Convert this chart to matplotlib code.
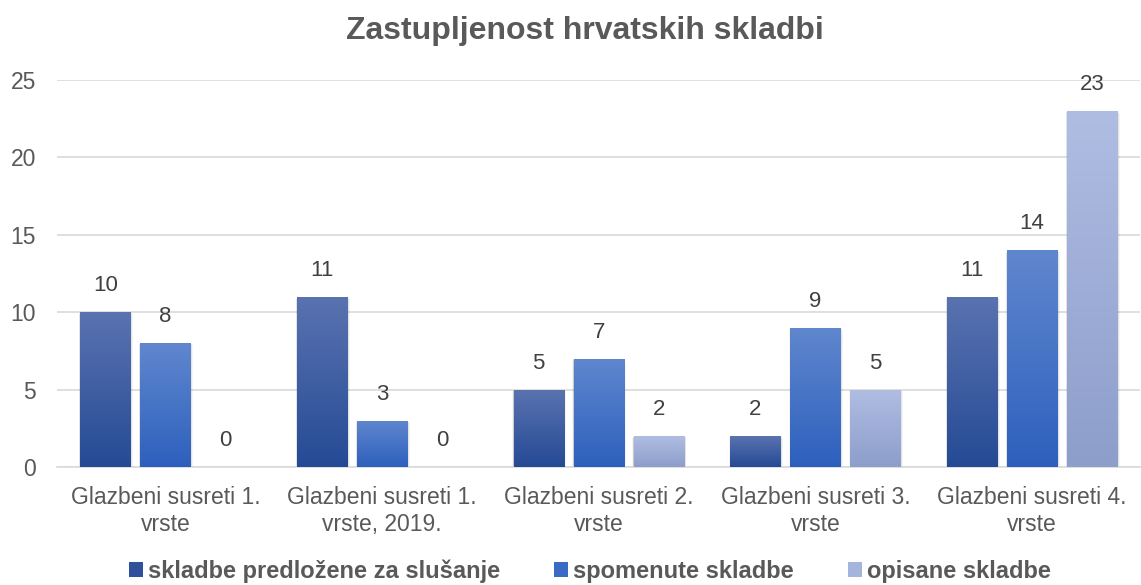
import numpy as np
import matplotlib.pyplot as plt
from matplotlib.colors import LinearSegmentedColormap
from matplotlib.patches import Rectangle

# Data
categories = ['Glazbeni susreti 1.\nvrste', 'Glazbeni susreti 1.\nvrste, 2019.',
              'Glazbeni susreti 2.\nvrste', 'Glazbeni susreti 3.\nvrste',
              'Glazbeni susreti 4.\nvrste']
predlozene = [10, 11, 5, 2, 11]
spomenute = [8, 3, 7, 9, 14]
opisane = [0, 0, 2, 5, 23]
series_names = ['skladbe predložene za slušanje', 'spomenute skladbe', 'opisane skladbe']

# (top colour, bottom colour) of each series gradient
gradients = [('#5A73B0', '#254A95'), ('#6087CE', '#2D60BD'), ('#B0BDE3', '#8D9ECB')]
legend_colors = ['#2F519B', '#3A6AC4', '#A5B4DD']

text_color = '#595959'
grid_color = '#d9d9d9'

fig = plt.figure(figsize=(11.41, 5.85), dpi=100)
ax = fig.add_axes([0.05, 0.2017, 0.9495, 0.6615])

x = np.arange(len(categories))
width = 0.231
step = 0.277
all_series = [predlozene, spomenute, opisane]

grad = np.linspace(1, 0, 256).reshape(-1, 1)

for i, values in enumerate(all_series):
    pos = x + (i - 1) * step
    cmap = LinearSegmentedColormap.from_list('g%d' % i, [gradients[i][1], gradients[i][0]])
    bars = ax.bar(pos, values, width, color='none', edgecolor='none', zorder=3)
    for b, v in zip(bars, values):
        bx, bw, bh = b.get_x(), b.get_width(), b.get_height()
        if bh > 0:
            # soft shadow
            for k, a in enumerate([0.10, 0.07, 0.04]):
                off = 0.004 * (k + 1)
                sh = Rectangle((bx - off * 0.5, -0.08 * (k + 1)), bw + off * 1.5, bh + 0.04 * (k + 1),
                               facecolor='black', edgecolor='none', alpha=a, zorder=2)
                ax.add_patch(sh)
            im = ax.imshow(grad, cmap=cmap, aspect='auto', extent=[bx, bx + bw, 0, bh],
                           zorder=3, interpolation='bicubic', vmin=0, vmax=1)
            im.set_clip_path(b)
        ax.annotate(str(v), (b.get_x() + bw / 2, bh), xytext=(0, 19), textcoords='offset points',
                    ha='center', va='center', fontsize=16, color='#404040', family='Liberation Sans')

ax.set_xlim(-0.5, len(categories) - 0.5)
ax.set_ylim(0, 25)
ax.set_yticks(range(0, 26, 5))
ax.set_xticks(x)
ax.set_xticklabels(categories, fontsize=16.5, color=text_color, family='Liberation Sans',
                   linespacing=1.2)
ax.tick_params(axis='y', length=0, pad=15, labelsize=16.5, labelcolor=text_color)
ax.tick_params(axis='x', length=0, pad=14)
for lab in ax.get_yticklabels():
    lab.set_family('Liberation Sans')

ax.grid(axis='y', color=grid_color, linewidth=1.2, zorder=0)
ax.set_axisbelow(True)
for s in ['top', 'right', 'left']:
    ax.spines[s].set_visible(False)
ax.spines['bottom'].set_color(grid_color)
ax.spines['bottom'].set_linewidth(1.2)

fig.text(0.513, 0.947, 'Zastupljenost hrvatskih skladbi', ha='center', va='center',
         fontsize=23, fontweight='bold', color=text_color, family='Liberation Sans')

handles = [Rectangle((0, 0), 1, 1, facecolor=c, edgecolor='none') for c in legend_colors]
fig.legend(handles, series_names, loc='center', bbox_to_anchor=(0.517, 0.024), ncol=3,
           frameon=False, handlelength=0.6, handleheight=0.6, handletextpad=0.2,
           columnspacing=2.3,
           prop={'family': 'Liberation Sans', 'weight': 'bold', 'size': 17},
           labelcolor=text_color)

fig.savefig('out.png', dpi=100)
